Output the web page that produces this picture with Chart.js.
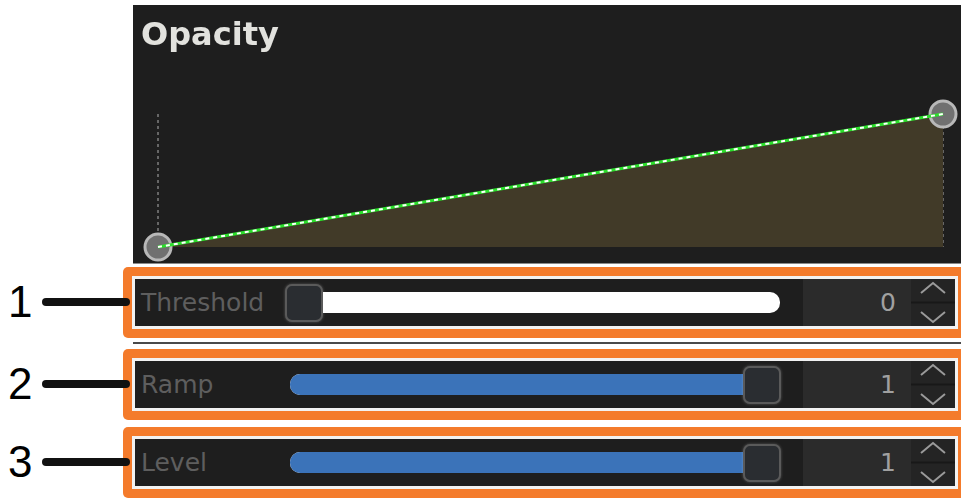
<!DOCTYPE html>
<html lang="en">
<head>
  <meta charset="UTF-8" />
  <title>Opacity</title>
  <script src="https://cdn.jsdelivr.net/npm/chart.js"></script>
  <style>
    body {
      margin: 0;
      width: 961px;
      height: 498px;
      background: #fff;
      position: relative;
      overflow: hidden;
      font-family: 'DejaVu Sans', sans-serif;
    }

    #panel {
      position: absolute;
      left: 133px;
      top: 5px;
      width: 828px;
      height: 258px;
      background: #1e1e1e;
      border-bottom: 1px solid #8a8a8a;
    }

    #panelTitle {
      position: absolute;
      left: 8px;
      top: 13px;
      font: bold 32px 'DejaVu Sans', sans-serif;
      line-height: 32px;
      color: #e2e2de;
    }

    #chartBox {
      position: absolute;
      left: 0;
      top: 0;
      width: 828px;
      height: 258px;
    }

    .sep {
      position: absolute;
      left: 133px;
      top: 342px;
      width: 828px;
      height: 2px;
      background: #4a4a4a;
    }

    .row {
      position: absolute;
      left: 123px;
      width: 826px;
      padding: 9px;
      background: #f47b2b;
      border-radius: 5px;
    }

    .inner {
      position: relative;
      height: 47px;
      border: 3px solid #f2f2f2;
      background: #1e1e1e;
    }

    .label {
      position: absolute;
      left: 6px;
      top: 0;
      line-height: 47px;
      font-size: 25px;
      color: #5e5e5e;
    }

    .track {
      position: absolute;
      left: 155px;
      width: 490px;
      top: 13px;
      height: 21px;
      border-radius: 10px;
      background: #fff;
      overflow: hidden;
    }

    .fill {
      position: absolute;
      left: 0;
      top: 0;
      bottom: 0;
      background: #3b73b9;
    }

    .knob {
      position: absolute;
      top: 5px;
      width: 34px;
      height: 34px;
      border-radius: 7px;
      background: #2a2d31;
      border: 2px solid #5a5a5a;
      box-shadow: 0 0 3px rgba(255, 255, 255, 0.25);
    }

    .num {
      position: absolute;
      left: 668px;
      width: 93px;
      padding-right: 15px;
      top: 0;
      height: 47px;
      line-height: 47px;
      text-align: right;
      font-size: 25px;
      color: #a0a0a0;
      background: #2b2b2b;
    }

    .spin {
      position: absolute;
      left: 776px;
      width: 44px;
      top: 0;
      height: 47px;
      background: #242424;
    }

    .spin svg {
      position: absolute;
      left: 0;
      top: 0;
    }

    .callout {
      position: absolute;
      left: 8px;
      font: 44px 'Liberation Sans', sans-serif;
      color: #000;
      line-height: 44px;
    }

    .leader {
      position: absolute;
      left: 42px;
      width: 88px;
      height: 8px;
      border-radius: 4px;
      background: #111;
    }
  </style>
</head>
<body>

  <div id="panel">
    <div id="chartBox"><canvas id="opacityChart"></canvas></div>
    <div id="panelTitle">Opacity</div>
  </div>
  <div class="sep"></div>

  <script>
    // curve data
    const curveX = [0, 1];
    const curveY = [0, 1];

    // slider rows
    const sliderLabels = ['Threshold', 'Ramp', 'Level'];
    const sliderValues = [0, 1, 1];
    const calloutNumbers = ['1', '2', '3'];

    const pts = curveX.map((x, i) => ({ x: x, y: curveY[i] }));

    new Chart(document.getElementById('opacityChart'), {
      type: 'line',
      data: {
        datasets: [
          {
            label: 'handles',
            data: pts,
            showLine: false,
            pointRadius: 13,
            pointBackgroundColor: '#707070',
            pointBorderColor: '#b8b8b8',
            pointBorderWidth: 3,
            clip: false,
            order: 3
          },
          {
            label: 'opacity',
            data: pts,
            borderColor: '#2be02b',
            borderWidth: 3,
            pointRadius: 0,
            fill: 'origin',
            backgroundColor: '#413a28',
            clip: false,
            order: 2
          },
          {
            label: 'dash',
            data: pts,
            borderColor: '#ffffff',
            borderWidth: 2,
            borderDash: [4, 4],
            pointRadius: 0,
            fill: false,
            clip: false,
            order: 1
          }
        ]
      },
      options: {
        responsive: true,
        maintainAspectRatio: false,
        animation: false,
        events: [],
        layout: { padding: { left: 25, right: 18, top: 109, bottom: 8 } },
        plugins: {
          legend: { display: false },
          tooltip: { enabled: false },
          filler: { drawTime: 'beforeDatasetsDraw' }
        },
        scales: {
          x: {
            type: 'linear',
            min: 0,
            max: 1,
            ticks: { display: false, stepSize: 1 },
            grid: { color: '#666666', lineWidth: 2, drawTicks: false },
            border: { display: false, dash: [3, 3] }
          },
          y: {
            type: 'linear',
            min: 0,
            max: 1,
            display: false
          }
        }
      }
    });

    // slider rows built from the arrays
    const rowTops = [267, 349, 427];
    const knobMin = 304 - 135, knobMax = 762 - 135;
    sliderLabels.forEach((name, i) => {
      const v = sliderValues[i];
      const cx = knobMin + v * (knobMax - knobMin);
      const row = document.createElement('div');
      row.className = 'row';
      row.style.top = rowTops[i] + 'px';
      row.innerHTML = `
        <div class="inner">
          <div class="label">${name}</div>
          <div class="track"><div class="fill" style="width:${v > 0 ? cx - 155 + 10 : 0}px"></div></div>
          <div class="knob" style="left:${cx - 19}px"></div>
          <div class="num">${v}</div>
          <div class="spin">
            <svg width="44" height="47">
              <line x1="0" y1="23.5" x2="44" y2="23.5" stroke="#181818" stroke-width="2" />
              <polyline points="10,14 22,4 34,14" fill="none" stroke="#9a9a9a" stroke-width="2" />
              <polyline points="10,33 22,43 34,33" fill="none" stroke="#9a9a9a" stroke-width="2" />
            </svg>
          </div>
        </div>`;
      document.body.appendChild(row);

      const c = rowTops[i] + 35;
      const num = document.createElement('div');
      num.className = 'callout';
      num.style.top = (c - 22) + 'px';
      num.textContent = calloutNumbers[i];
      document.body.appendChild(num);

      const lead = document.createElement('div');
      lead.className = 'leader';
      lead.style.top = (c - 4) + 'px';
      document.body.appendChild(lead);
    });
  </script>

</body>
</html>
